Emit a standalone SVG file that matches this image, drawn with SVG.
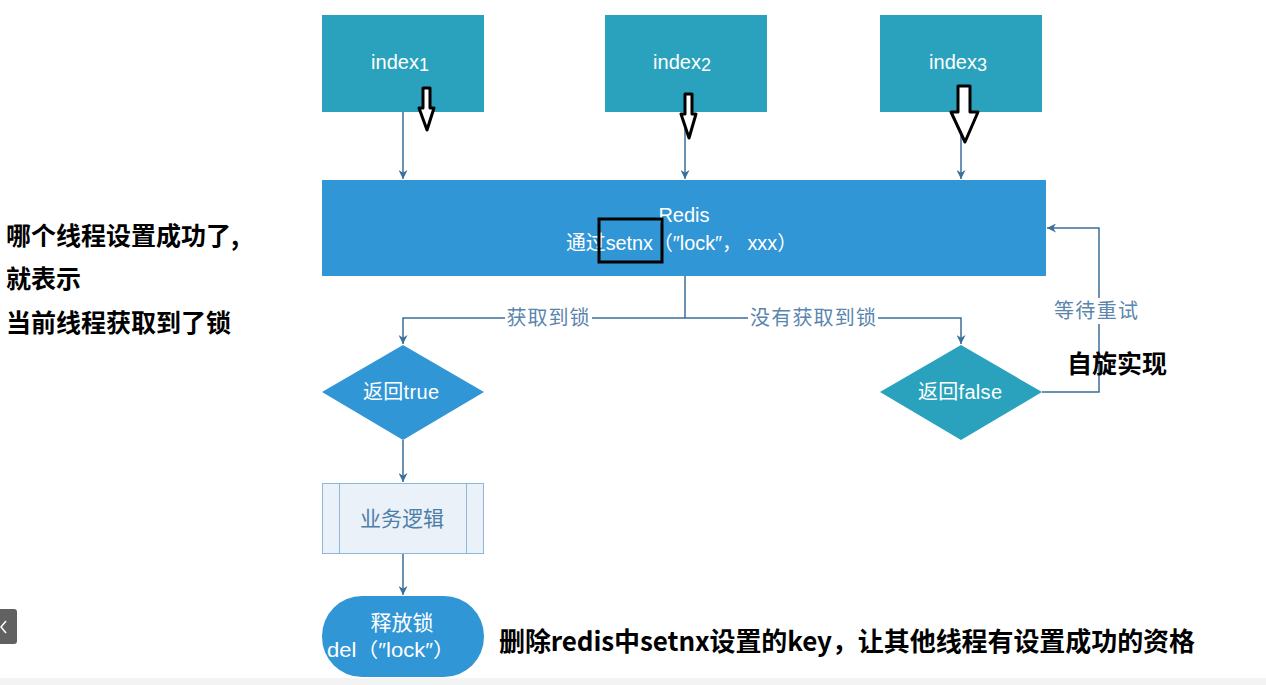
<svg xmlns="http://www.w3.org/2000/svg" width="1266" height="685" viewBox="0 0 1266 685">
<style>
.lbl{font-family:"Liberation Sans","Noto Sans CJK SC",sans-serif;font-size:20px;fill:#5a85ad;text-anchor:middle}
.wt{font-family:"Liberation Sans","Noto Sans CJK SC",sans-serif;font-size:20px;fill:#ffffff;text-anchor:middle}
.note{font-family:"Noto Sans CJK SC","Liberation Sans",sans-serif;font-weight:bold;fill:#000000}
.conn{fill:none;stroke:#3b6f9a;stroke-width:1.5}
.hand{fill:#ffffff;stroke:#000000;stroke-width:3;stroke-linejoin:round}
</style>
<defs>
<marker id="ah" viewBox="0 0 10 10" refX="10" refY="5" markerWidth="9" markerHeight="9" markerUnits="userSpaceOnUse" orient="auto">
<path d="M0,0 L10,5 L0,10 L3,5 Z" fill="#3b6f9a"/>
</marker>
</defs>
<rect width="1266" height="685" fill="#ffffff"/>
<rect x="0" y="678" width="1266" height="7" fill="#f3f3f3"/>

<g id="connectors">
<path class="conn" d="M403,112 V179" marker-end="url(#ah)"/>
<path class="conn" d="M685,112 V179" marker-end="url(#ah)"/>
<path class="conn" d="M961,112 V179" marker-end="url(#ah)"/>
<path class="conn" d="M685,276 V318"/>
<path class="conn" d="M685,318 H403 V344" marker-end="url(#ah)"/>
<path class="conn" d="M685,318 H961 V344" marker-end="url(#ah)"/>
<path class="conn" d="M1042,392 H1099 V228 H1047" marker-end="url(#ah)"/>
<path class="conn" d="M403,440 V482" marker-end="url(#ah)"/>
<path class="conn" d="M403,554 V595" marker-end="url(#ah)"/>
<rect x="505" y="305" width="87" height="26" fill="#ffffff"/>
<text class="lbl" x="548" y="325" textLength="83">获取到锁</text>
<rect x="748" y="305" width="130" height="26" fill="#ffffff"/>
<text class="lbl" x="813" y="325" textLength="126">没有获取到锁</text>
<rect x="1052" y="298" width="90" height="26" fill="#ffffff"/>
<text class="lbl" x="1096" y="318" textLength="84">等待重试</text>
</g>

<g id="index1">
<rect x="322" y="15" width="162" height="97" fill="#2aa2bd"/>
<text class="wt" x="400" y="69">index<tspan font-size="18" dy="2">1</tspan></text>
</g>
<g id="index2">
<rect x="605" y="15" width="162" height="97" fill="#2aa2bd"/>
<text class="wt" x="682" y="69">index<tspan font-size="18" dy="2">2</tspan></text>
</g>
<g id="index3">
<rect x="880" y="15" width="162" height="97" fill="#2aa2bd"/>
<text class="wt" x="958" y="69">index<tspan font-size="18" dy="2">3</tspan></text>
</g>

<g id="redis">
<rect x="322" y="180" width="724" height="96" fill="#3196d6"/>
<text class="wt" x="684" y="222">Redis</text>
<text class="wt" x="566" y="250" style="text-anchor:start" textLength="231" lengthAdjust="spacingAndGlyphs">通过setnx（″lock″， xxx）</text>
<rect x="599" y="219" width="63" height="43" fill="none" stroke="#000000" stroke-width="3"/>
</g>

<g id="return-true">
<polygon points="403,345 484,392 403,440 322,392" fill="#3196d6"/>
<text class="wt" x="401" y="399" textLength="76">返回true</text>
</g>
<g id="return-false">
<polygon points="961,345 1042,392 961,440 880,392" fill="#2aa2bd"/>
<text class="wt" x="960" y="399" textLength="84">返回false</text>
</g>

<g id="business">
<rect x="322.5" y="483.5" width="161" height="70" fill="#eaf1f8" stroke="#8db8dd" stroke-width="1"/>
<line x1="339.5" y1="483.5" x2="339.5" y2="553.5" stroke="#8db8dd" stroke-width="1"/>
<line x1="466.5" y1="483.5" x2="466.5" y2="553.5" stroke="#8db8dd" stroke-width="1"/>
<text class="lbl" x="402" y="526" style="font-size:21px;fill:#4d7ea8">业务逻辑</text>
</g>

<g id="release">
<rect x="322" y="596" width="162" height="81" rx="40" ry="40" fill="#3196d6"/>
<text class="wt" x="402" y="630" style="font-size:21px">释放锁</text>
<text class="wt" x="391" y="657" textLength="128" lengthAdjust="spacingAndGlyphs">del（″lock″）</text>
</g>

<g id="hand-arrows">
<path class="hand" d="M423,88 H430 V108 H434 L427,130 L419,108 H423 Z"/>
<path class="hand" d="M685,94 H692 V114 H696 L689,138 L681,114 H685 Z"/>
<path class="hand" d="M958,86 H970 V112 H978 L965,142 L951,112 H958 Z"/>
</g>

<g id="notes">
<text class="note" x="6" y="245" font-size="25">哪个线程设置成功了,</text>
<text class="note" x="6" y="288" font-size="25">就表示</text>
<text class="note" x="6" y="332" font-size="25">当前线程获取到了锁</text>
<text class="note" x="1067" y="373" font-size="25">自旋实现</text>
<text class="note" x="499" y="651" font-size="26" textLength="696">删除redis中setnx设置的key，让其他线程有设置成功的资格</text>
</g>

<g id="side-button">
<rect x="-4" y="609" width="21" height="35" rx="3" fill="#616161"/>
<path d="M6,621 L1,627 L6,633" fill="none" stroke="#ffffff" stroke-width="1.5"/>
</g>
</svg>
